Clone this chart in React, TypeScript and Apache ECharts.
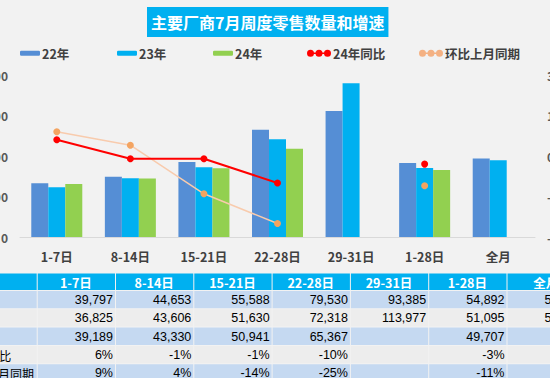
import React, { useEffect, useRef } from "react";
import * as echarts from "echarts";

const categories = ["1-7日", "8-14日", "15-21日", "22-28日", "29-31日", "1-28日", "全月"];
const sales22 = [39797, 44653, 55588, 79530, 93385, 54892, 58180];
const sales23 = [36825, 43606, 51630, 72318, 113977, 51095, 56920];
const sales24: (number | null)[] = [39189, 43330, 50941, 65367, null, 49707, null];
const yoy24: (number | null)[] = [6, -1, -1, -10, null, -3, null];
const momPrev: (number | null)[] = [9, 4, -14, -25, null, -11, null];
const rowLabels = ["22年", "23年", "24年", "24年同比", "环比上月同期"];
const leftTicks = [0, 30000, 60000, 90000, 120000];
const rightTicks = [-30, -15, 0, 15, 30];

const C22 = "#558ed5";
const C23 = "#00b0f0";
const C24 = "#92d050";
const CRED = "#ff0000";
const CORL = "#f8cbad";
const CORM = "#f4a461";
const FONT = "'Noto Sans CJK SC', 'Noto Sans', sans-serif";

const dotsIcon =
  "path://M6.5,3.2L9,3.2L9,4.8L6.5,4.8Z" +
  "M15,3.2L17.5,3.2L17.5,4.8L15,4.8Z" +
  "M0,4a3.5,3.5 0 1,1 7,0a3.5,3.5 0 1,1 -7,0Z" +
  "M8.5,4a3.5,3.5 0 1,1 7,0a3.5,3.5 0 1,1 -7,0Z" +
  "M17,4a3.5,3.5 0 1,1 7,0a3.5,3.5 0 1,1 -7,0Z";

function fmtNum(v: number | null) {
  if (v === null || v === undefined) return "";
  return v.toLocaleString("en-US");
}
function fmtPct(v: number | null) {
  if (v === null || v === undefined) return "";
  return v + "%";
}

function buildTable() {
  const els: any[] = [];
  const x0 = 36.7;
  const colW = 78.3;
  const headTop = 273.5;
  const headH = 16.5;
  const rowH = 18.3;
  const rows: string[][] = [
    sales22.map(fmtNum),
    sales23.map(fmtNum),
    sales24.map(fmtNum),
    yoy24.map(fmtPct),
    momPrev.map(fmtPct),
  ];
  els.push({ type: "rect", shape: { x: -50, y: headTop, width: x0 + 50, height: headH }, style: { fill: "#00b0f0" } });
  categories.forEach((c, i) => {
    const x = x0 + i * colW;
    els.push({ type: "rect", shape: { x: x + 1, y: headTop, width: colW - 1, height: headH }, style: { fill: "#00b0f0" } });
    els.push({
      type: "text",
      x: x + colW / 2,
      y: headTop + headH / 2 + 1,
      style: { text: c, fill: "#ffffff", font: `bold 12.5px ${FONT}`, align: "center", verticalAlign: "middle" },
    });
  });
  rows.forEach((r, ri) => {
    const y = headTop + headH + 1 + ri * rowH;
    const fill = ri % 2 === 0 ? "#c5d9f1" : "#ededed";
    els.push({ type: "rect", shape: { x: -50, y, width: x0 + 50, height: rowH - 1 }, style: { fill } });
    els.push({
      type: "text",
      x: -38,
      y: y + rowH / 2,
      style: { text: rowLabels[ri], fill: "#000000", font: `12px ${FONT}`, align: "left", verticalAlign: "middle" },
    });
    r.forEach((v, ci) => {
      const x = x0 + ci * colW;
      els.push({ type: "rect", shape: { x: x + 1, y, width: colW - 1, height: rowH - 1 }, style: { fill } });
      if (v) {
        els.push({
          type: "text",
          x: x + colW - 2,
          y: y + rowH / 2,
          style: { text: v, fill: "#000000", font: `12.5px 'Liberation Sans', Arial, sans-serif`, align: "right", verticalAlign: "middle" },
        });
      }
    });
  });
  return els;
}

export default function App() {
  const ref = useRef<HTMLDivElement>(null);
  useEffect(() => {
    document.body.style.margin = "0";
    const chart = echarts.init(ref.current!, null, { renderer: "svg" });
    const legendText = { color: "#404040", fontWeight: "bold" as const, fontSize: 12.5, fontFamily: FONT, padding: [0, 0, 0, -3] };
    const option: any = {
      animation: false,
      backgroundColor: "#f2f2f2",
      title: {
        text: "主要厂商7月周度零售数量和增速",
        left: 147,
        top: 7,
        backgroundColor: "#00b0f0",
        padding: [5, 4, 5, 4],
        textStyle: { color: "#ffffff", fontSize: 16, fontWeight: "bold", fontFamily: FONT, lineHeight: 20 },
      },
      legend: [
        { data: ["22年"], left: 15, top: 42, itemWidth: 20, itemHeight: 5, textStyle: legendText },
        { data: ["23年"], left: 112, top: 42, itemWidth: 20, itemHeight: 5, textStyle: legendText },
        { data: ["24年"], left: 208, top: 42, itemWidth: 20, itemHeight: 5, textStyle: legendText },
        {
          data: [{ name: "24年同比", icon: dotsIcon }],
          left: 302, top: 42, itemWidth: 24, itemHeight: 8, textStyle: legendText,
          itemStyle: { color: CRED, borderWidth: 0, borderColor: CRED },
          lineStyle: { width: 0 },
        },
        {
          data: [{ name: "环比上月同期", icon: dotsIcon }],
          left: 414, top: 42, itemWidth: 24, itemHeight: 8, textStyle: legendText,
          itemStyle: { color: "#f4b183", borderWidth: 0, borderColor: "#f4b183" },
          lineStyle: { width: 0 },
        },
      ],
      grid: { left: 20, right: 15, top: 75, bottom: 141, containLabel: false, outerBoundsMode: "none" },
      xAxis: {
        type: "category",
        data: categories,
        axisLine: { lineStyle: { color: "#d9d9d9", width: 1 } },
        axisTick: { show: false },
        axisLabel: { color: "#404040", fontWeight: "bold", fontSize: 12.5, fontFamily: FONT, margin: 13, interval: 0 },
      },
      yAxis: [
        {
          type: "value",
          min: leftTicks[0],
          max: leftTicks[leftTicks.length - 1],
          interval: leftTicks[1] - leftTicks[0],
          splitLine: { show: false },
          axisLine: { show: false },
          axisTick: { show: false },
          axisLabel: {
            color: "#595959",
            fontWeight: "bold",
            fontSize: 12,
            fontFamily: FONT,
            margin: 12,
            formatter: (v: number) => String(v),
          },
        },
        {
          type: "value",
          min: rightTicks[0],
          max: rightTicks[rightTicks.length - 1],
          interval: rightTicks[1] - rightTicks[0],
          splitLine: { show: false },
          axisLine: { show: false },
          axisTick: { show: false },
          axisLabel: {
            color: "#595959",
            fontWeight: "bold",
            fontSize: 12,
            fontFamily: FONT,
            margin: 12,
            formatter: (v: number) => v + "%",
          },
        },
      ],
      series: [
        { name: "22年", type: "bar", data: sales22, barWidth: 17, barGap: "0%", itemStyle: { color: C22 } },
        { name: "23年", type: "bar", data: sales23, barWidth: 17, barGap: "0%", itemStyle: { color: C23 } },
        { name: "24年", type: "bar", data: sales24, barWidth: 17, barGap: "0%", itemStyle: { color: C24 } },
        {
          name: "24年同比",
          type: "line",
          yAxisIndex: 1,
          data: yoy24,
          symbol: "circle",
          symbolSize: 7,
          lineStyle: { color: CRED, width: 2 },
          itemStyle: { color: CRED },
          connectNulls: false,
          z: 5,
        },
        {
          name: "环比上月同期",
          type: "line",
          yAxisIndex: 1,
          data: momPrev,
          symbol: "circle",
          symbolSize: 7,
          lineStyle: { color: CORL, width: 1.5 },
          itemStyle: { color: CORM },
          connectNulls: false,
          z: 4,
        },
      ],
      graphic: buildTable(),
    };
    chart.setOption(option);
    return () => chart.dispose();
  }, []);
  return <div ref={ref} style={{ width: 550, height: 378, position: "absolute", left: 0, top: 0 }} />;
}
